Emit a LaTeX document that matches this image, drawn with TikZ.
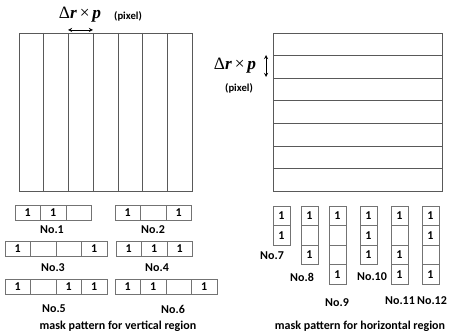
\documentclass[tikz,border=0pt]{standalone}
\usepackage{fontspec}
\setmainfont{Carlito}
\newfontfamily\timesfont{Liberation Serif}
\newcommand{\drp}{{\timesfont\fontsize{13}{15}\selectfont Δ\textbf{\textit{r}}\,×\,\textbf{\textit{p}}}}
\newcommand{\hmask}[4]{%
  \foreach \v [count=\i] in {#4}
    \node[hcell] (#1-\i) at ({#2+(\i-0.5)*25.5},#3) {\v};}
\newcommand{\vmask}[3]{%
  \foreach \v [count=\i] in {#3}
    \node[vcell] (#1-\i) at (#2+8.5,{206+(\i-0.5)*19.5}) {\v};}
\tikzset{
  gridline/.style={draw=black!65,line width=0.5pt},
  hcell/.style={draw=black!55,line width=0.5pt,minimum width=19.1pt,minimum height=11.6pt,
    inner sep=0pt,font=\bfseries\small},
  vcell/.style={draw=black!55,line width=0.5pt,minimum width=12.75pt,minimum height=14.6pt,
    inner sep=0pt,font=\bfseries\small},
  nolabel/.style={font=\bfseries\small,inner sep=0pt},
}
\begin{document}
\begin{tikzpicture}[x=0.75pt,y=-0.75pt]
  \useasboundingbox (0,0) rectangle (452,334);

  %vertical region
  \draw[gridline] (19,33) rectangle (192,191);
  \foreach \k in {1,...,6}
    \draw[gridline] ({19+\k*173/7},33) -- ({19+\k*173/7},191);
  \node (dvx) at (80,15) {\drp};
  \node[font=\bfseries\footnotesize] (pxv) at (128,16) {(pixel)};
  \coordinate (va) at (68,30);
  \coordinate (vb) at (93,30);
  \draw[<->,>=stealth] (va) -- (vb);

  %horizontal region
  \draw[gridline] (273,33) rectangle (442,191);
  \foreach \k in {1,...,6}
    \draw[gridline] (273,{33+\k*158/7}) -- (442,{33+\k*158/7});
  \node (dvy) at (235,66) {\drp};
  \node[font=\bfseries\footnotesize] (pxh) at (239,88) {(pixel)};
  \coordinate (ha) at (266,55);
  \coordinate (hb) at (266,77);
  \draw[<->,>=stealth] (ha) -- (hb);

  %masks for vertical region
  \hmask{m1}{15}{213}{1,1,{}}
  \hmask{m2}{115}{213}{1,{},1}
  \hmask{m3}{5}{249}{1,{},{},1}
  \hmask{m4}{116}{249}{1,1,1}
  \hmask{m5}{5}{287}{1,{},1,1}
  \hmask{m6}{115}{287}{1,1,{},1}
  \node[nolabel] (n1) at (52,230) {No.1};
  \node[nolabel] (n2) at (153,230) {No.2};
  \node[nolabel] (n3) at (53,268) {No.3};
  \node[nolabel] (n4) at (157,268) {No.4};
  \node[nolabel] (n5) at (54,309) {No.5};
  \node[nolabel] (n6) at (173,309) {No.6};
  \node[nolabel] (capv) at (118,326) {mask pattern for vertical region};

  %masks for horizontal region
  \vmask{m7}{273}{1,1}
  \vmask{m8}{301}{1,{},1}
  \vmask{m9}{329}{1,{},{},1}
  \vmask{m10}{360}{1,1,1}
  \vmask{m11}{391}{1,{},1,1}
  \vmask{m12}{422}{1,1,{},1}
  \node[nolabel] (n7) at (272,256) {No.7};
  \node[nolabel] (n8) at (302,277) {No.8};
  \node[nolabel] (n9) at (337,303) {No.9};
  \node[nolabel] (n10) at (372,277) {No.10};
  \node[nolabel] (n11) at (400,301) {No.11};
  \node[nolabel] (n12) at (432,301) {No.12};
  \node[nolabel] (caph) at (360,326) {mask pattern for horizontal region};
\end{tikzpicture}
\end{document}
